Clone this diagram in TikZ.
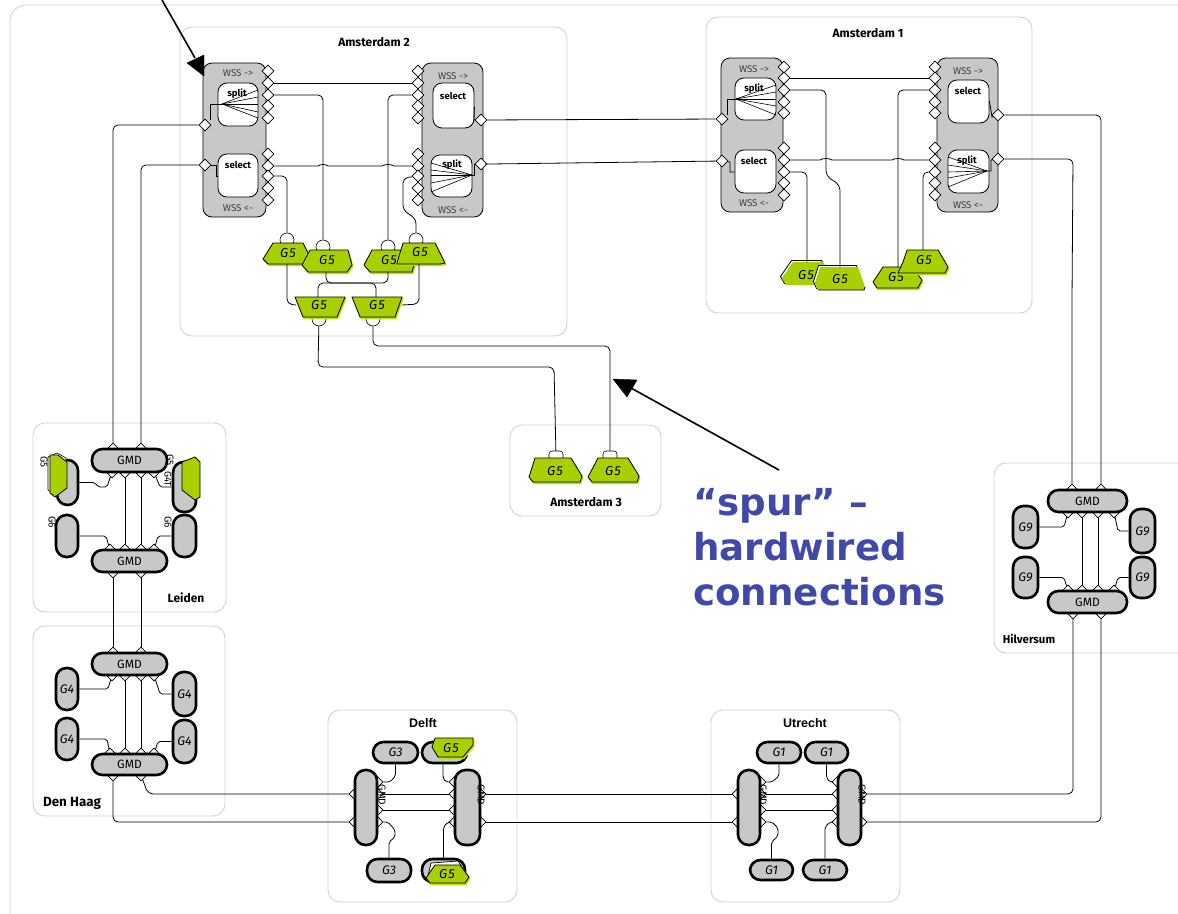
\documentclass[tikz,border=0pt]{standalone}
\usepackage{fontspec}
\setmainfont{Fira Sans}
\newfontfamily\headfont{DejaVu Sans}
\newfontfamily\boldname{Liberation Sans}
\usetikzlibrary{shapes.geometric}
\definecolor{gboxc}{HTML}{C8C8C8}
\definecolor{greenc}{HTML}{A8D000}
\definecolor{limec}{HTML}{B6E000}
\definecolor{framec}{HTML}{D2D2D2}
\definecolor{spurc}{HTML}{4048A8}
\tikzset{
  x=1pt,y=-1pt,
  frame/.style={draw=framec,line width=.9pt,rounded corners=12pt,inner sep=0pt},
  wss/.style={draw=black,line width=.8pt,fill=gboxc,rounded corners=9pt,inner sep=0pt},
  inbox/.style={draw=black,line width=.8pt,fill=white,rounded corners=9pt,inner sep=0pt},
  gm/.style={draw=black,line width=2.6pt,fill=gboxc,rounded corners=10.5pt,inner sep=0pt,font=\fontsize{12}{14}\selectfont},
  port/.style={diamond,draw=black,fill=white,line width=.6pt,inner sep=0pt,minimum width=12pt,minimum height=12pt},
  bump/.style={circle,draw=black,fill=white,line width=.6pt,inner sep=0pt,minimum size=14pt},
  wire/.style={draw=black,line width=.8pt,rounded corners=5pt},
  fanline/.style={draw=black,line width=.6pt},
  wsstext/.style={font=\fontsize{9.8}{11}\selectfont,text=black!75,inner sep=0pt},
  intext/.style={font=\bfseries\fontsize{9.5}{11}\selectfont,inner sep=0pt},
  title/.style={font=\bfseries\fontsize{12}{14}\selectfont,inner sep=0pt},
  liberationtitle/.style={font=\boldname\bfseries\fontsize{12.5}{14}\selectfont,inner sep=0pt},
  gtext/.style={font=\itshape\fontsize{13}{14}\selectfont,inner sep=0pt},
  rottext/.style={font=\fontsize{10}{11}\selectfont,rotate=-90,inner sep=0pt},
  gpoly/.style={draw=black,line width=.8pt,fill=greenc,line join=round},
  gshadow/.style={fill=limec,draw=limec,line width=.8pt},
  bigarrow/.style={draw=black,line width=1.6pt},
  bighead/.style={fill=black,draw=black,line width=.4pt},
  spur/.style={font=\headfont\bfseries\fontsize{37.2}{42}\selectfont,text=spurc,anchor=base west,inner sep=0pt}
}
\newcommand{\BX}[7]{\node[#1,minimum width={(#5-#3)*1pt},minimum height={(#6-#4)*1pt}] (#2) at ({(#3+#5)/2},{(#4+#6)/2}) {#7};}
\newcommand{\GFV}{G\kern1pt 5}
\newcommand{\GV}[4]{\draw[gshadow,shift={(1,1.6)}] #2 -- cycle; \draw[gpoly] #2 -- cycle; \node[gtext] (#1) at #3 {#4};}
\newcommand{\GW}[4]{\draw[draw=black,fill=white,line width=.8pt,shift={(-1.5,-1.5)}] #2 -- cycle; \draw[gshadow,draw=none,fill=greenc] #2 -- cycle; \node[gtext] (#1) at #3 {#4};}
\newcommand{\PT}[3]{\node[port] (#1) at (#2,#3) {};}
\newcommand{\GL}[1]{\itshape\fontsize{12.5}{14}\selectfont #1}
\begin{document}
\begin{tikzpicture}
\useasboundingbox (0,0) rectangle (1178,913);
\begin{scope}
\clip (0,0) rectangle (1178,913);
\draw[framec,line width=.9pt,rounded corners=16pt] (10,5) rectangle (1220,960);
% site frames
\BX{frame}{frAtwo}{180}{27}{567}{336}{}
\BX{frame}{frAone}{706}{17}{1032}{313}{}
\BX{frame}{frAthree}{510}{425}{661}{516}{}
\BX{frame}{frLeiden}{33}{423}{226}{612}{}
\BX{frame}{frHaag}{33}{626}{225}{816}{}
\BX{frame}{frDelft}{328}{710}{517}{902}{}
\BX{frame}{frUtrecht}{711}{710}{900}{902}{}
\BX{frame}{frHilv}{994}{463}{1230}{653}{}
\end{scope}
\node[title] (tAtwo) at (374,42) {Amsterdam 2};
\node[title] (tAone) at (868,33) {Amsterdam 1};
\node[title] (tAthree) at (586,502) {Amsterdam 3};
\node[title] (tLeiden) at (186,598) {Leiden};
\node[title,font=\bfseries\fontsize{13.4}{14}\selectfont] (tHaag) at (72,803) {Den Haag};
\node[liberationtitle] (tDelft) at (423,723) {Delft};
\node[liberationtitle] (tUtrecht) at (805,723) {Utrecht};
\node[title,font=\bfseries\fontsize{11.4}{14}\selectfont] (tHilv) at (1029,639) {Hilversum};
% Amsterdam 2 WSS
\BX{wss}{wA}{203}{63}{266}{217}{}
\BX{wss}{wB}{422}{63}{483}{217}{}
\BX{inbox}{spA}{218}{83}{258}{126}{}
\BX{inbox}{seA}{218}{154}{258}{197}{}
\BX{inbox}{seB}{433}{83}{474}{128}{}
\BX{inbox}{spB}{431}{155}{472}{197}{}
\node[wsstext] (wAt) at (238,73) {WSS ->};
\node[wsstext] (wAb) at (238,208) {WSS <-};
\node[wsstext] (wBt) at (453,76) {WSS ->};
\node[wsstext] (wBb) at (453,210) {WSS <-};
\node[intext] (spAt) at (237,94) {split};
\node[intext] (seAt) at (238,165) {select};
\node[intext] (seBt) at (453,96) {select};
\node[intext] (spBt) at (452,165) {split};
\foreach \n/\y in {1/71,2/83,3/95,4/106,5/118,6/154,7/166,8/176,9/188,10/200} {\PT{aR\n}{268}{\y}\PT{bL\n}{418}{\y}}
\PT{aLa}{205}{125}\PT{aLb}{205}{165}
\PT{bRa}{481}{120}\PT{bRb}{481}{164}
\coordinate (hubA) at (222,104);
\foreach \y in {90,97,104,112,118} \draw[fanline] (hubA) -- (258,\y);
\coordinate (hubB) at (472,175);
\foreach \y in {163,170,175,183,192} \draw[fanline] (hubB) -- (431,\y);
\draw[wire,rounded corners=0pt] (210,120) -- (210,104) -- (hubA);
\draw[wire,rounded corners=0pt] (aLb) -- (216,165) -- (216,176) -- (seA.west |- 216,176);
\draw[wire,rounded corners=0pt] (hubB) -- (474,175) -- (474,164) -- (bRb);
\draw[wire,rounded corners=0pt] (seB.east |- 474,107) -- (474,120) -- (bRa);
% Amsterdam 2 G5
\node[bump] (ga) at (287,240) {};
\node[bump] (gb) at (323,247) {};
\node[bump] (gc) at (388,247) {};
\node[bump] (gd) at (416,240) {};
\node[bump] (ge) at (319,319) {};
\node[bump] (gf) at (373,319) {};
\GV{gaT}{(263,259)--(273,243)--(303,243)--(310,257)--(303,264)--(268,264)}{(288,253)}{\GFV}
\GV{gcT}{(372,250)--(412,250)--(414,265)--(412,272)--(370,272)--(364,265)}{(389,260)}{\GFV}
\GV{gbT}{(302,265)--(310,250)--(348,250)--(352,265)--(347,272)--(308,272)}{(327,260)}{\GFV}
\GV{gdT}{(397,263)--(403,243)--(435,243)--(445,263)--(440,264)--(397,264)}{(420,252)}{\GFV}
\GV{geT}{(295,297)--(345,297)--(337,317)--(303,317)}{(319,305)}{\GFV}
\GV{gfT}{(352,297)--(402,297)--(395,317)--(360,317)}{(377,305)}{\GFV}
\coordinate (gaB) at (287,264);
\coordinate (gbB) at (326,272);
\coordinate (gcB) at (388,272);
\coordinate (gdB) at (419,264);
\coordinate (geT2) at (318,297);
\coordinate (gfT2) at (376,297);
\coordinate (geL) at (296,305);
\coordinate (gfR) at (402,305);
% wires Amsterdam 2
\draw[wire] (aR2) -- (bL2);
\draw[wire] (aR3) -- (323,95) -- (323,240) -- (gb);
\draw[wire] (bL3) -- (388,95) -- (388,240) -- (gc);
\draw[wire,rounded corners=0pt] (aR7) -- (318,166) .. controls (320,164) and (326,164) .. (328,166) -- (382,166) .. controls (385,164) and (391,164) .. (394,166) -- (bL7);
\draw[wire] (aR8) -- (287,176) -- (287,233) -- (ga);
\draw[wire] (bL8) -- (403,178) -- (403,210) -- (416,219) -- (gd);
\draw[wire] (gaB) -- (287,304) -- (geL);
\draw[wire] (gdB) -- (419,304) -- (gfR);
\draw[wire] (gbB) -- (326,283) -- (388,283) -- (gcB);
\draw[wire] (geT2) -- (318,283) -- (376,283) -- (gfT2);
% Amsterdam 1 WSS
\BX{wss}{wC}{721}{58}{783}{212}{}
\BX{wss}{wD}{937}{58}{998}{212}{}
\BX{inbox}{spC}{735}{78}{776}{120}{}
\BX{inbox}{seC}{735}{150}{776}{193}{}
\BX{inbox}{seD}{948}{80}{989}{123}{}
\BX{inbox}{spD}{948}{150}{989}{193}{}
\node[wsstext] (wCt) at (754,69) {WSS ->};
\node[wsstext] (wCb) at (754,203) {WSS <-};
\node[wsstext] (wDt) at (968,71) {WSS ->};
\node[wsstext] (wDb) at (968,205) {WSS <-};
\node[intext] (spCt) at (754,89) {split};
\node[intext] (seCt) at (754,161) {select};
\node[intext] (seDt) at (968,91) {select};
\node[intext] (spDt) at (967,161) {split};
\foreach \n/\y in {1/67,2/78,3/90,4/102,5/113,6/148,7/160,8/172,9/183,10/195} {\PT{cR\n}{784}{\y}\PT{dL\n}{935}{\y}}
\PT{cLa}{722}{119}\PT{cLb}{722}{161}
\PT{dRa}{998}{115}\PT{dRb}{998}{159}
\coordinate (hubC) at (736,99);
\foreach \y in {85,92,99,106,115} \draw[fanline] (hubC) -- (776,\y);
\coordinate (hubD) at (987,171);
\foreach \y in {157,165,172,178,187} \draw[fanline] (hubD) -- (948,\y);
\draw[wire,rounded corners=0pt] (727,115) -- (727,99) -- (hubC);
\draw[wire,rounded corners=0pt] (cLb) -- (730,162) -- (730,172) -- (seC.west |- 730,172);
\draw[wire,rounded corners=0pt] (hubD) -- (991,171) -- (991,160) -- (dRb);
\draw[wire,rounded corners=0pt] (seD.east |- 992,101) -- (992,117) -- (dRa);
% Amsterdam 1 G5
\GW{gpT}{(793,262)--(823,262)--(830,275)--(822,285)--(786,285)--(782,278)}{(806,275)}{\GFV}
\GW{gqT}{(820,267)--(858,267)--(865,287)--(864,290)--(818,290)--(815,283)}{(840,279)}{\GFV}
\GV{grT}{(883,267)--(912,267)--(922,280)--(918,288)--(877,288)--(873,282)}{(896,277)}{\GFV}
\GV{gsT}{(907,250)--(938,250)--(948,267)--(945,273)--(898,273)--(903,262)}{(924,260)}{\GFV}
\draw[line width=.9pt] (818,290) -- (864,290) -- (865,287);
\coordinate (gpP) at (807,262);
\coordinate (gqP) at (840,267);
\coordinate (grP) at (898,267);
\coordinate (gsP) at (923,250);
\draw[wire] (cR2) -- (dL2);
\draw[wire] (cR3) -- (826,90) -- (826,176) -- (840,185) -- (gqP);
\draw[wire] (cR8) -- (807,172) -- (gpP);
\draw[wire] (dL3) -- (898,90) -- (grP);
\draw[wire] (dL8) -- (923,172) -- (gsP);
\draw[wire,rounded corners=0pt] (cR7) -- (820,160) .. controls (823,158) and (829,158) .. (832,160) -- (892,160) .. controls (895,158) and (901,158) .. (904,160) -- (dL7);
% Amsterdam 2 to 1
\draw[wire] (bRa) -- (cLa);
\draw[wire] (bRb) -- (490,164) -- (cLb);
% Amsterdam 3
\node[bump,rounded corners=3pt,rectangle,minimum width=14pt,minimum height=10pt] (ghP) at (556,456) {};
\node[bump,rounded corners=3pt,rectangle,minimum width=14pt,minimum height=10pt] (giP) at (610,456) {};
\GV{ghT}{(535,458)--(571,458)--(582,476)--(580,482)--(533,482)--(529,477)}{(555,471)}{\GFV}
\GV{giT}{(598,458)--(628,458)--(639,476)--(637,482)--(592,482)--(588,477)}{(613,471)}{\GFV}
\draw[wire] (ge) -- (318,367) -- (554,367) -- (ghP);
\draw[wire] (gf) -- (373,346) -- (610,346) -- (giP);
% Leiden
\foreach \x in {113,141} {\PT{lA\x}{\x}{449}\PT{lD\x}{\x}{572}}
\foreach \x in {112,125,141,154} \PT{lB\x}{\x}{472};
\foreach \x in {110,125,141,154} \PT{lC\x}{\x}{550};
\BX{gm}{lTop}{92}{449}{167}{472}{GMD}
\BX{gm}{lBot}{92}{550}{167}{572}{GMD}
\BX{gm}{lTL}{57}{460}{78}{505}{}
\BX{gm}{lTR}{173}{462}{196}{512}{}
\BX{gm}{lBL}{56}{515}{78}{557}{}
\BX{gm}{lBR}{173}{515}{196}{557}{}
\draw[draw=black,fill=white,line width=.6pt] (48,457) -- (57,453) -- (66,458) -- (66,488) -- (55,495) -- (48,490) -- cycle;
\draw[gpoly] (50,455) -- (58,455) -- (67,462) -- (67,488) -- (55,497) -- (50,493) -- cycle;
\draw[gpoly] (182,462) -- (195,457) -- (200,462) -- (200,497) -- (195,500) -- (182,490) -- cycle;
\node[rottext] (lgA) at (44,462) {G5};
\node[rottext] (lgB) at (52,522) {G6};
\node[rottext] (lgC) at (170,460) {G5};
\node[rottext,font=\fontsize{9.5}{10}\selectfont] (lgD) at (168,479) {G4T};
\node[rottext] (lgE) at (168,522) {G6};
\draw[wire] (lB125) -- (lC125);
\draw[wire] (lB141) -- (lC141);
\draw[wire,rounded corners=2pt] (lTL.east) -- (95,482.5) -- (98,487) -- (107,487) -- (lB112);
\draw[wire,rounded corners=2pt] (lTR.west) -- (160,487) -- (lB154);
\draw[wire,rounded corners=2pt] (lBL.east) -- (106,536) -- (lC110);
\draw[wire,rounded corners=2pt] (lBR.west) -- (158,536) -- (lC154);
% Den Haag
\foreach \x in {113,141} {\PT{hA\x}{\x}{653}\PT{hD\x}{\x}{775}}
\foreach \x in {112,125,141,154} \PT{hB\x}{\x}{675};
\foreach \x in {110,125,141,154} \PT{hC\x}{\x}{754};
\BX{gm}{hTop}{92}{653}{167}{675}{GMD}
\BX{gm}{hBot}{92}{754}{167}{775}{GMD}
\BX{gm}{hTL}{56}{668}{78}{710}{\GL{G4}}
\BX{gm}{hTR}{173}{672}{196}{716}{\GL{G4}}
\BX{gm}{hBL}{56}{718}{78}{760}{\GL{G4}}
\BX{gm}{hBR}{173}{720}{196}{763}{\GL{G4}}
\draw[wire] (hB125) -- (hC125);
\draw[wire] (hB141) -- (hC141);
\draw[wire,rounded corners=2pt] (hTL.east) -- (108,689) -- (hB112);
\draw[wire,rounded corners=2pt] (hTR.west) -- (160,694) -- (hB154);
\draw[wire,rounded corners=2pt] (hBL.east) -- (107,739) -- (hC110);
\draw[wire,rounded corners=2pt] (hBR.west) -- (158,741.5) -- (hC154);
% Leiden links
\draw[wire] (lD113) -- (hA113);
\draw[wire] (lD141) -- (hA141);
\draw[wire] (aLa) -- (113,125) -- (lA113);
\draw[wire] (aLb) -- (141,165) -- (lA141);
% Delft
\foreach \y in {794,822} {\PT{dlA\y}{355}{\y}\PT{dlD\y}{480}{\y}}
\foreach \y in {782,794,810,822} {\PT{dlB\y}{377}{\y}\PT{dlC\y}{455}{\y}}
\BX{gm}{dlL}{355}{770}{377}{845}{}
\BX{gm}{dlR}{455}{770}{480}{845}{}
\node[rottext] (dlLt) at (382,795) {GMD};
\node[rottext] (dlRt) at (481,795) {GMD};
\BX{gm}{dlG3a}{373}{742}{418}{763}{\GL{G3}}
\BX{gm}{dlG5a}{422}{742}{467}{763}{}
\BX{gm}{dlG3b}{367}{859}{411}{882}{\GL{G3}}
\BX{gm}{dlG5b}{422}{859}{465}{882}{}
\GV{dlG5at}{(435,738)--(473,738)--(473,745)--(463,757)--(438,757)--(432,747)}{(451,748)}{\GFV}
\draw[black,fill=white,line width=.7pt] (431,863) -- (458,861) -- (467,875) -- (428,876) -- cycle;
\GV{dlG5bt}{(435,865)--(460,865)--(469,877)--(465,883)--(430,883)--(426,878)}{(447,874)}{\GFV}
\draw[wire] (dlB794) -- (dlC794);
\draw[wire] (dlB810) -- (dlC810);
\draw[wire,rounded corners=2pt] (dlG3a.south) -- (395.5,776) -- (390,782) -- (dlB782);
\draw[wire,rounded corners=2pt] (443,763) -- (443,778) -- (446,782) -- (dlC782);
\draw[wire,rounded corners=2pt] (dlB822) -- (388,822) -- (395,830) -- (395,837) -- (389,842) -- (dlG3b.north);
\draw[wire,rounded corners=2pt] (dlG5b.north) -- (443.5,827) -- (448,822) -- (dlC822);
% Utrecht
\foreach \y in {794,822} {\PT{utA\y}{738}{\y}\PT{utD\y}{861}{\y}}
\foreach \y in {782,794,810,822} {\PT{utB\y}{760}{\y}\PT{utC\y}{838}{\y}}
\BX{gm}{utL}{738}{770}{760}{845}{}
\BX{gm}{utR}{838}{770}{861}{845}{}
\node[rottext] (utLt) at (763,795) {GMD};
\node[rottext] (utRt) at (862,795) {GMD};
\BX{gm}{utG1a}{757}{742}{801}{763}{\GL{G1}}
\BX{gm}{utG1b}{805}{742}{848}{763}{\GL{G1}}
\BX{gm}{utG1c}{750}{860}{793}{880}{\GL{G1}}
\BX{gm}{utG1d}{803}{860}{847}{880}{\GL{G1}}
\draw[wire] (utB794) -- (utC794);
\draw[wire] (utB810) -- (utC810);
\draw[wire,rounded corners=2pt] (utG1a.south) -- (779,776) -- (772,782) -- (utB782);
\draw[wire,rounded corners=2pt] (utG1b.south) -- (826.5,778) -- (830,782) -- (utC782);
\draw[wire,rounded corners=2pt] (utB822) -- (772,822) -- (778,828) -- (778,836) -- (771.5,842) -- (utG1c.north);
\draw[wire,rounded corners=2pt] (utG1d.north) -- (825,827) -- (830,822) -- (utC822);
% Hilversum
\foreach \x/\n in {1072/a,1101/b} \PT{hvA\n}{\x}{490};
\foreach \x/\n in {1073/a,1101/b} \PT{hvD\n}{\x}{613};
\foreach \x in {1068,1082,1098,1114} {\PT{hvB\x}{\x}{512}\PT{hvC\x}{\x}{591}}
\BX{gm}{hvTop}{1048}{490}{1127}{512}{GMD}
\BX{gm}{hvBot}{1048}{591}{1127}{613}{GMD}
\BX{gm}{hvTL}{1013}{506}{1038}{548}{\GL{G9}}
\BX{gm}{hvTR}{1130}{509}{1155}{553}{\GL{G9}}
\BX{gm}{hvBL}{1013}{557}{1038}{598}{\GL{G9}}
\BX{gm}{hvBR}{1130}{557}{1155}{598}{\GL{G9}}
\draw[wire] (hvB1082) -- (hvC1082);
\draw[wire] (hvB1098) -- (hvC1098);
\draw[wire,rounded corners=2pt] (hvTL.east) -- (1064,527) -- (hvB1068);
\draw[wire,rounded corners=2pt] (hvTR.west) -- (1118,531) -- (hvB1114);
\draw[wire,rounded corners=2pt] (hvBL.east) -- (1064,577.5) -- (hvC1068);
\draw[wire,rounded corners=2pt] (hvBR.west) -- (1118,577.5) -- (hvC1114);
% long links
\draw[wire] (hD141) -- (148,794) -- (dlA794);
\draw[wire] (hD113) -- (113,822) -- (dlA822);
\draw[wire] (dlD794) -- (utA794);
\draw[wire] (dlD822) -- (utA822);
\draw[wire] (utD794) -- (1073,794) -- (hvDa);
\draw[wire] (utD822) -- (1101,822) -- (hvDb);
\draw[wire] (dRa) -- (1101,115) -- (hvAb);
\draw[wire] (dRb) -- (1073,159) -- (1072,300) -- (hvAa);
% callout arrows
\coordinate (arrAs) at (162,0);
\coordinate (arrAe) at (195,58);
\coordinate (arrBs) at (779,470);
\coordinate (arrBe) at (631,388);
\draw[bigarrow] (arrAs) -- (arrAe);
\draw[bighead] (187,63) -- (204,55) -- (204,76) -- cycle;
\draw[bigarrow] (arrBs) -- (arrBe);
\draw[bighead] (613,379) -- (637,380) -- (627,397) -- cycle;
\node[spur] (spurA) at (693,515) {“spur” –};
\node[spur] (spurB) at (693,560) {hardwired};
\node[spur] (spurC) at (693,605) {connections};
\end{tikzpicture}
\end{document}
